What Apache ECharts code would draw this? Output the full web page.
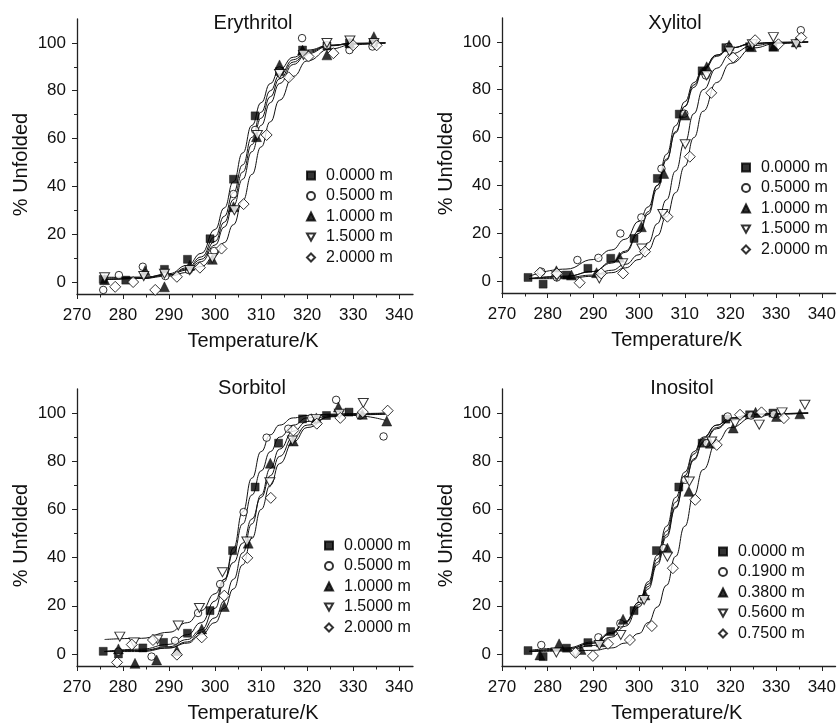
<!DOCTYPE html>
<html><head><meta charset="utf-8">
<script src="https://cdn.jsdelivr.net/npm/echarts@6/dist/echarts.min.js"></script>
<style>html,body{margin:0;padding:0;background:#fff}#c{width:839px;height:725px}</style>
</head><body><div id="c"></div>
<script>
// ---------- text / ticks ----------
const panelTitles = ['Erythritol', 'Xylitol', 'Sorbitol', 'Inositol'];
const legendNames = [
  ['0.0000 m', '0.5000 m', '1.0000 m', '1.5000 m', '2.0000 m'],
  ['0.0000 m', '0.5000 m', '1.0000 m', '1.5000 m', '2.0000 m'],
  ['0.0000 m', '0.5000 m', '1.0000 m', '1.5000 m', '2.0000 m'],
  ['0.0000 m', '0.1900 m', '0.3800 m', '0.5600 m', '0.7500 m']
];
const xTickLabels = [270, 280, 290, 300, 310, 320, 330, 340];
const xMinorTicks = [275, 285, 295, 305, 315, 325, 335];
const yTickLabels = [0, 20, 40, 60, 80, 100];
const yMinorTicks = [10, 30, 50, 70, 90];

// ---------- measured points [T, %] ----------
const ery00 = [[275.7,1.1],[280.6,0.8],[289,5.3],[294,9.5],[298.9,18.1],[304,43],[308.7,69.5],[314,88],[319,97],[324.3,98.7],[329.2,100],[334.4,100]];
const ery05 = [[275.7,-3.3],[279.1,2.9],[284.3,6.4],[289.2,2.5],[294.3,5],[299.8,13],[304,36.8],[308.7,63.6],[314,88.5],[318.9,102],[324.3,99],[329.2,97],[334.2,98.5]];
const ery10 = [[276,1],[284.8,4.8],[289,-2],[294.5,7],[299.4,9.5],[304,31.5],[309,60.8],[314,90.8],[319,97],[324.3,95],[329.3,100],[334.5,102.6]];
const ery15 = [[276,2],[284.5,2.5],[289,3.5],[294.5,5],[299.4,10],[304.2,30],[309.2,61.5],[314,87],[319.2,95],[324.3,100],[329.3,101],[334.5,100]];
const ery20 = [[278.3,-2],[282.2,0],[287,-3.3],[291.7,2.2],[296.7,6],[301.4,14],[306.2,32.6],[311.2,61.5],[316,85.6],[320.3,94.3],[325.7,95.7],[330,99],[335.1,99]];

const xyl00 = [[275.7,1.5],[279,-1.3],[284.1,2.5],[288.8,5.3],[293.8,9.5],[298.9,17.8],[304,42.9],[308.8,69.8],[313.8,87.9],[319,97.6],[324.2,98],[329.3,98]];
const xyl05 = [[278.6,3.9],[282,1.5],[286.5,8.8],[291.1,9.7],[295.9,19.9],[300.5,26.6],[304.9,47],[309.9,70],[314.6,86],[319.6,98],[324.6,99],[335.4,104.9]];
const xyl10 = [[281.9,4.3],[285.2,2.5],[290.7,3.5],[295.7,10],[300.5,22.7],[305.4,45],[310.1,69.4],[314.8,89.6],[319.7,98.6],[324.6,98],[329.5,98.2],[334.4,100]];
const xyl15 = [[282,2],[291.3,1.1],[296.4,7.4],[300.6,13.6],[305.2,28],[310.1,57.2],[314.8,86],[319.8,96],[324.8,99],[329.4,102],[334.4,99]];
const xyl20 = [[278.3,3.5],[282,3.2],[287,-0.7],[291.7,3.2],[296.5,3.2],[301.3,12.3],[306.2,26.9],[311.1,52],[315.8,78.7],[320.6,93.5],[325.4,100.7],[330.5,99],[335.5,101.8]];

const sor00 = [[275.7,1.1],[279,0],[284.3,2.5],[288.8,4.8],[294,8.6],[298.9,18],[303.8,42.9],[308.7,69.3],[313.8,87.5],[319,97.6],[324.2,99],[329.1,100.4]];
const sor05 = [[279,1],[286.2,-1.1],[291.3,5.5],[296.3,17],[301.1,29],[306.2,58.9],[311.2,89.8],[315.9,93.5],[320.9,98],[326.3,105.5],[331.5,99],[336.6,90.3]];
const sor10 = [[279,2.1],[282.6,-3.9],[287.3,-2.5],[291.7,1.4],[297.1,10.4],[302,19.7],[307.2,46],[312,79.2],[317,88.4],[322,98],[326.8,102.5],[332,99.5],[337.3,96.7]];
const sor15 = [[279.3,7.2],[282.4,4.8],[287.5,6],[292,11.8],[296.6,19.1],[301.6,33.9],[306.9,46.7],[311.9,71.3],[316.8,88.6],[322,97.6],[327,99.7],[332.2,104.2]];
const sor20 = [[278.7,-3.5],[281.9,3.9],[286.5,5.8],[291.7,-0.3],[297.1,6.9],[302,24.2],[307,39.9],[312.1,64.8],[317,92.8],[322.1,95.6],[327.2,98],[332.1,100.4],[337.5,101]];

const ino000 = [[275.7,1.4],[279,-1.1],[284.1,2.4],[288.8,4.7],[293.8,9.3],[298.9,18],[303.8,42.9],[308.7,69.3],[313.8,87.5],[319,97.5],[324.2,99.3],[329.3,100]];
const ino019 = [[278.6,3.7],[291.1,6.9],[295.9,12.7],[300.5,22.7],[305.4,43.9],[310.1,72.3],[314.8,87.5],[319.4,98.6],[324.5,99],[329.5,99.5]];
const ino038 = [[278.3,-0.4],[282.5,4.2],[287.3,1.9],[291.7,5.1],[296.5,14.4],[301.3,24.5],[306.2,43.9],[310.9,67.5],[315.6,87.5],[320.6,93.8],[325.5,100.3],[330.1,98.6],[335.2,99.7]];
const ino056 = [[281.9,0.6],[286.1,0.5],[291.3,3.7],[296,7.9],[301.1,22.4],[306.2,40.4],[311,71.6],[315.9,88.2],[321,95.8],[326.3,95.2],[331.3,100.3],[336.3,103.5]];
const ino075 = [[286.1,0.5],[289.9,-0.8],[293.2,4.2],[298,5.8],[302.8,11.6],[307.4,35.6],[312.3,64],[317,86.8],[322.1,99.3],[326.8,100.3],[331.7,97.9]];

// ---------- fitted curves, read at these temperatures ----------
const curveT = [276, 284, 290, 294, 297, 300, 302, 304, 306, 308, 310, 312, 314, 317, 320, 325, 330, 337];
const eryFit00 = [1, 1.5, 3.5, 7, 12, 22, 31, 42, 54, 65.5, 75, 83, 89, 94, 97, 99, 99.8, 100];
const eryFit05 = [1, 1.5, 3, 6, 10.5, 19, 27.5, 37.5, 49, 60.5, 71, 80, 86.5, 93, 96.5, 99, 99.8, 100];
const eryFit10 = [1.5, 2, 3, 5.5, 9.5, 17, 25, 34.5, 46, 57.5, 68.5, 77.5, 85, 92, 96, 99, 99.8, 100];
const eryFit15 = [2, 2, 3, 5, 8.5, 15.5, 23, 32, 43, 54.5, 65.5, 75, 83, 91, 95.5, 98.8, 99.7, 100];
const eryFit20 = [1, 1.5, 2.5, 4, 6.5, 11, 16.5, 24, 34, 45, 56.5, 67, 76, 86, 92.5, 97.5, 99.3, 100];

const xylFit00 = [1, 2, 4, 8, 12.5, 21, 29, 40, 53, 65, 75, 83, 89, 94.5, 97.5, 99.2, 99.8, 100];
const xylFit05 = [2, 5, 9, 13, 17.5, 25, 31, 40, 51, 62, 73, 81, 88, 94, 97.5, 99.5, 99.8, 100];
const xylFit10 = [1, 2, 4, 7.5, 12, 20, 28, 38.5, 50.5, 62.5, 73, 82, 88.5, 94.5, 97.5, 99.3, 99.8, 100];
const xylFit15 = [1, 1.5, 2.5, 4.5, 7, 11, 16, 24, 34, 46, 58, 70, 80, 89, 95, 98.5, 99.6, 100];
const xylFit20 = [1, 1, 2, 3.5, 5.5, 9, 13, 19, 27, 37, 48, 60, 71, 83, 91, 97.5, 99.3, 100];

const sorFit00 = [1, 2, 4, 8, 13, 22, 31, 42, 54, 66, 76, 84, 90, 95, 98, 99.5, 99.8, 100];
const sorFit05 = [1, 1.5, 3, 6, 10, 19, 30, 44, 59, 73, 84, 91, 95, 98, 99, 99.5, 99.5, 99.5];
const sorFit10 = [1, 1, 2.5, 5, 9, 15, 22, 31, 42, 54, 66, 77, 85, 92.5, 96.5, 99, 99, 97];
const sorFit15 = [6, 6.5, 9, 13, 18, 25, 31, 38, 46, 56, 65, 74, 82, 90, 95, 98.5, 99.3, 99.5];
const sorFit20 = [1, 1.5, 2.5, 4.5, 8, 13, 19, 27, 37, 48, 60, 70, 79, 88, 94, 98.5, 99.5, 100];

const inoFit000 = [1, 2, 4.5, 8.5, 13, 21.5, 30, 41, 53, 65, 75.5, 84, 90, 95, 98, 99.5, 99.8, 100];
const inoFit019 = [1.5, 2.5, 5, 9, 13.5, 21.5, 29, 39.5, 51, 63, 74, 83, 89.5, 95, 98, 99.5, 99.8, 100];
const inoFit038 = [1, 2, 4.5, 8.5, 13, 20.5, 28, 38, 49.5, 61, 71.5, 80.5, 87.5, 93.5, 97, 99.2, 99.7, 100];
const inoFit056 = [1, 1.5, 3.5, 7, 11.5, 19.5, 27, 37, 48.5, 60.5, 71.5, 81, 88, 94, 97.3, 99.3, 99.8, 100];
const inoFit075 = [1, 1.2, 1.5, 2.5, 4.5, 8.5, 13, 19.5, 28.5, 40.5, 53, 66, 76.5, 88, 94, 98.3, 99.5, 100];

const panelPoints = [
  [ery00, ery05, ery10, ery15, ery20],
  [xyl00, xyl05, xyl10, xyl15, xyl20],
  [sor00, sor05, sor10, sor15, sor20],
  [ino000, ino019, ino038, ino056, ino075]
];
const panelFits = [
  [eryFit00, eryFit05, eryFit10, eryFit15, eryFit20],
  [xylFit00, xylFit05, xylFit10, xylFit15, xylFit20],
  [sorFit00, sorFit05, sorFit10, sorFit15, sorFit20],
  [inoFit000, inoFit019, inoFit038, inoFit056, inoFit075]
];

// ---------- layout / style ----------
const FONT = "'Liberation Sans', Arial, Helvetica, sans-serif";
const INK = '#111';
const AXIS = '#222';
const grids = [
  {left: 77, top: 19, width: 336, height: 275},
  {left: 502, top: 18, width: 336, height: 275},
  {left: 77, top: 389, width: 336, height: 277},
  {left: 502, top: 389, width: 336, height: 277}
];
const titlePos = [[253, 13], [675, 13], [252, 378], [682, 378]];
const legendPos = [[306, 167.5], [741, 159.5], [324, 537.5], [718, 543.5]];
const markers = [
  {symbol: 'rect', symbolSize: 8, itemStyle: {color: '#000', borderColor: '#000', borderWidth: 0.5}},
  {symbol: 'circle', symbolSize: 7.5, itemStyle: {color: '#fff', borderColor: '#000', borderWidth: 1}},
  {symbol: 'triangle', symbolSize: 10, itemStyle: {color: '#000', borderColor: '#000', borderWidth: 0.5}},
  {symbol: 'path://M0,0L10,0L5,9Z', symbolSize: [10, 9], itemStyle: {color: '#fff', borderColor: '#000', borderWidth: 1}},
  {symbol: 'diamond', symbolSize: 11, itemStyle: {color: '#fff', borderColor: '#000', borderWidth: 1}}
];

const option = {
  animation: false,
  backgroundColor: '#fff',
  textStyle: {fontFamily: FONT},
  title: [], legend: [], grid: [], xAxis: [], yAxis: [], series: []
};

for (let p = 0; p < 4; p++) {
  option.grid.push(grids[p]);
  option.title.push({
    text: panelTitles[p], left: titlePos[p][0], top: titlePos[p][1], textAlign: 'center', padding: 0,
    textStyle: {fontSize: 20, fontWeight: 'normal', color: INK, fontFamily: FONT}
  });
  option.legend.push({
    orient: 'vertical', left: legendPos[p][0], top: legendPos[p][1], padding: 0,
    itemWidth: 8, itemHeight: 8, itemGap: 4.5, selectedMode: false,
    data: legendNames[p],
    textStyle: {fontSize: 16, lineHeight: 15, color: INK, fontFamily: FONT, padding: [0, 0, 0, 6]}
  });
  option.xAxis.push({
    gridIndex: p, type: 'value', min: 270, max: 343, position: 'bottom',
    axisLine: {show: true, onZero: false, lineStyle: {color: AXIS, width: 1.3}},
    axisTick: {show: true, length: 5, customValues: xTickLabels, lineStyle: {color: AXIS, width: 1}},
    axisLabel: {customValues: xTickLabels, fontSize: 17, margin: 13, color: INK, fontFamily: FONT},
    splitLine: {show: false},
    name: 'Temperature/K', nameLocation: 'middle', nameGap: 37,
    nameTextStyle: {fontSize: 20, color: INK, fontFamily: FONT, padding: [0, 0, 0, 16]}
  });
  option.xAxis.push({
    gridIndex: p, type: 'value', min: 270, max: 343, position: 'bottom', offset: 0,
    axisLine: {show: false, onZero: false},
    axisTick: {show: true, length: 3.5, customValues: xMinorTicks, lineStyle: {color: AXIS, width: 1}},
    axisLabel: {show: false}, splitLine: {show: false}
  });
  option.yAxis.push({
    gridIndex: p, type: 'value', min: -5, max: 110, position: 'left',
    axisLine: {show: true, onZero: false, lineStyle: {color: AXIS, width: 1.3}},
    axisTick: {show: true, length: 5, customValues: yTickLabels, lineStyle: {color: AXIS, width: 1}},
    axisLabel: {customValues: yTickLabels, fontSize: 17, margin: 11, color: INK, fontFamily: FONT},
    splitLine: {show: false},
    name: '% Unfolded', nameLocation: 'middle', nameGap: 46,
    nameTextStyle: {fontSize: 20, color: INK, fontFamily: FONT, padding: [0, 16, 0, 0]}
  });
  option.yAxis.push({
    gridIndex: p, type: 'value', min: -5, max: 110, position: 'left', offset: 0,
    axisLine: {show: false, onZero: false},
    axisTick: {show: true, length: 3, customValues: yMinorTicks, lineStyle: {color: AXIS, width: 1}},
    axisLabel: {show: false}, splitLine: {show: false}
  });

  panelFits[p].forEach(function (fit) {
    option.series.push({
      type: 'line', xAxisIndex: 2 * p, yAxisIndex: 2 * p, z: 2, silent: true,
      smooth: 0.5, smoothMonotone: 'x', symbol: 'none',
      lineStyle: {color: '#111', width: 1},
      data: curveT.map(function (t, i) { return [t, fit[i]]; })
    });
  });
  panelPoints[p].forEach(function (pts, k) {
    option.series.push(Object.assign({
      type: 'scatter', name: legendNames[p][k], xAxisIndex: 2 * p, yAxisIndex: 2 * p, z: 3,
      data: pts
    }, JSON.parse(JSON.stringify(markers[k]))));
  });
}

const chart = echarts.init(document.getElementById('c'), null, {renderer: 'canvas'});
chart.setOption(option);
</script>
</body></html>
